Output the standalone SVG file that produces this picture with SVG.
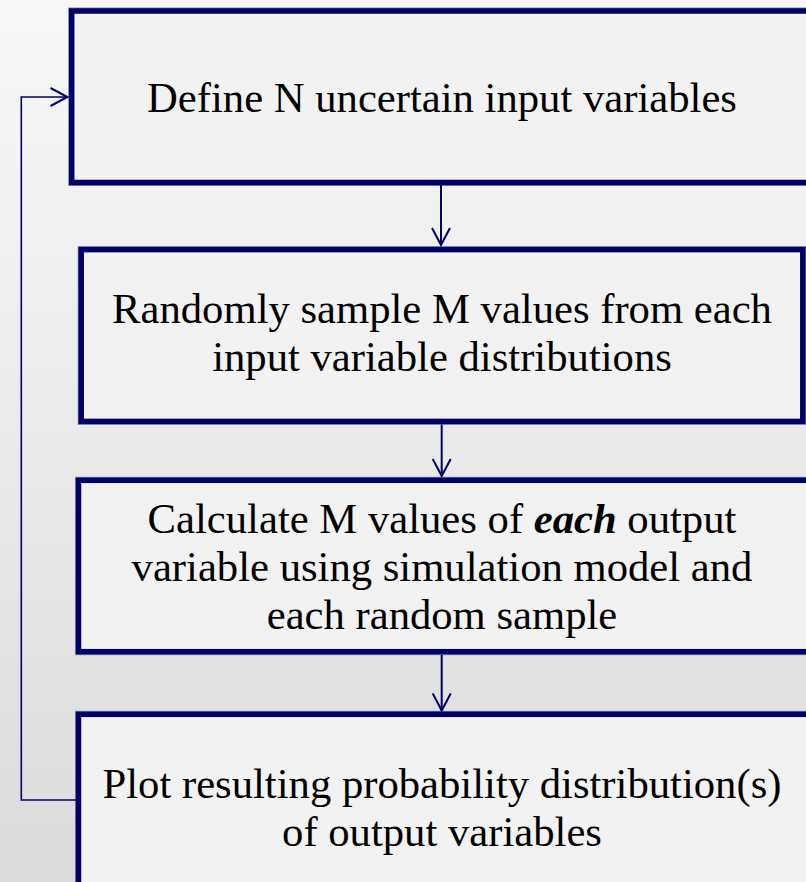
<svg xmlns="http://www.w3.org/2000/svg" width="806" height="882" viewBox="0 0 806 882">
  <defs>
    <linearGradient id="bg" x1="0" y1="0" x2="0" y2="1">
      <stop offset="0" stop-color="#f8f8f8"/>
      <stop offset="1" stop-color="#dbdbdb"/>
    </linearGradient>
    <marker id="chevron" viewBox="0 0 20 20" refX="18" refY="10" markerWidth="20" markerHeight="20" markerUnits="userSpaceOnUse" orient="auto">
      <path d="M1,1 L18,10 L1,19" fill="none" stroke="#000066" stroke-width="2"/>
    </marker>
    <style>
      .box rect.rim { fill: none; stroke: #8a8ab8; stroke-width: 7; }
      .box rect.frame { fill: #f2f2f2; stroke: #000066; stroke-width: 5.5; }
      .box text { font-family: "Liberation Serif", "Times New Roman", serif; font-size: 42.67px; fill: #000; text-anchor: middle; }
      .conn path { fill: none; stroke: #000066; stroke-width: 2; }
      .conn path.loop { stroke-width: 1.6; }
    </style>
  </defs>

  <rect x="0" y="0" width="806" height="882" fill="url(#bg)"/>

  <!-- step 1 -->
  <g id="define" class="box">
    <rect class="rim" x="71.7" y="11" width="760" height="171.5"/>
    <rect class="frame" x="71.7" y="11" width="760" height="171.5"/>
    <text x="442" y="112">Define N uncertain input variables</text>
  </g>

  <!-- step 2 -->
  <g id="sample" class="box">
    <rect class="rim" x="81.2" y="249.6" width="721.6" height="171.8"/>
    <rect class="frame" x="81.2" y="249.6" width="721.6" height="171.8"/>
    <text x="442" y="323">Randomly sample M values from each</text>
    <text x="442" y="371">input variable distributions</text>
  </g>

  <!-- step 3 -->
  <g id="calculate" class="box">
    <rect class="rim" x="78.5" y="480.3" width="740" height="171.4"/>
    <rect class="frame" x="78.5" y="480.3" width="740" height="171.4"/>
    <text x="442" y="533">Calculate M values of <tspan font-weight="bold" font-style="italic">each</tspan> output</text>
    <text x="442" y="581">variable using simulation model and</text>
    <text x="442" y="629">each random sample</text>
  </g>

  <!-- step 4 -->
  <g id="plot" class="box">
    <rect class="rim" x="78.5" y="714.3" width="740" height="220"/>
    <rect class="frame" x="78.5" y="714.3" width="740" height="220"/>
    <text x="442" y="798">Plot resulting probability distribution(s)</text>
    <text x="442" y="846">of output variables</text>
  </g>

  <g id="connectors" class="conn">
    <path d="M441,185 L441,245" marker-end="url(#chevron)"/>
    <path d="M441.7,424.5 L441.7,476" marker-end="url(#chevron)"/>
    <path d="M441.7,655 L441.7,710.5" marker-end="url(#chevron)"/>
    <path class="loop" d="M76,800 L21.3,800 L21.3,97 L67.5,97" marker-end="url(#chevron)"/>
  </g>
</svg>
